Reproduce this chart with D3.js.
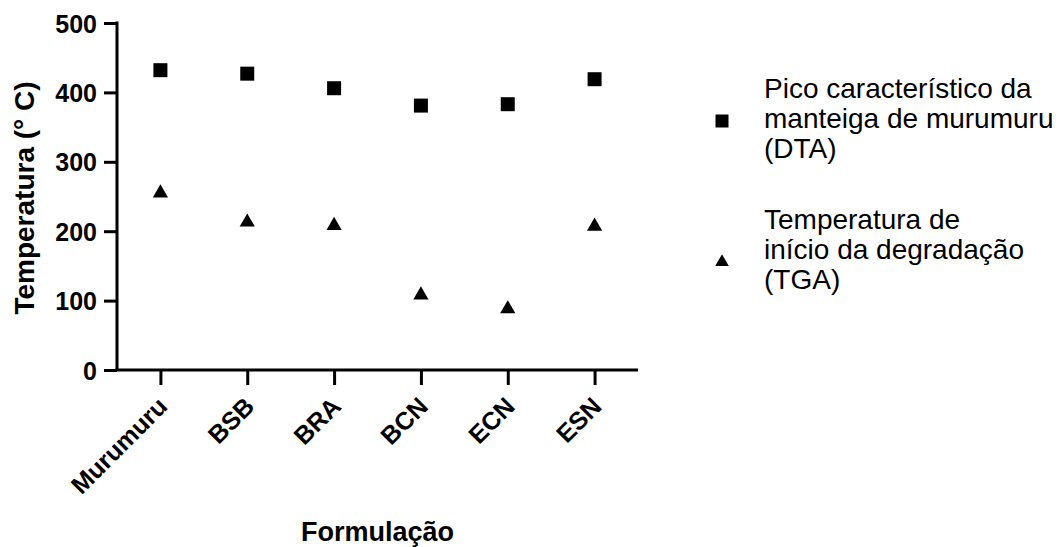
<!DOCTYPE html>
<html>
<head>
<meta charset="utf-8">
<script src="https://cdn.jsdelivr.net/npm/d3@7"></script>
<style>
  html, body { margin: 0; padding: 0; background: #fff; }
  svg { display: block; }
  text { font-family: "Liberation Sans", Arial, Helvetica, sans-serif; fill: #000; }
</style>
</head>
<body>
<svg id="chart" width="1061" height="547"></svg>
<script>
// Formulations along the x axis
const categories = ["Murumuru", "BSB", "BRA", "BCN", "ECN", "ESN"];
// Characteristic peak of murumuru butter (DTA), °C
const dtaPeak = [432, 427, 406, 381, 383, 419];
// Onset of degradation (TGA), °C
const tgaOnset = [255, 213, 208, 108, 88, 207];
const yTicks = [0, 100, 200, 300, 400, 500];

const legendDTA = ["Pico característico da", "manteiga de murumuru", "(DTA)"];
const legendTGA = ["Temperatura de", "início da degradação", "(TGA)"];

const svg = d3.select("#chart");
const plotL = 117, plotR = 638, plotT = 23, plotB = 370;

const x = d3.scalePoint().domain(categories).range([plotL, plotR]).padding(0.5);
const y = d3.scaleLinear().domain([0, 500]).range([plotB, plotT]);

// y axis
const yAxis = svg.append("g")
  .attr("transform", `translate(${plotL},0)`)
  .call(d3.axisLeft(y).tickValues(yTicks).tickSize(13).tickPadding(7).tickFormat(d3.format("d")));
yAxis.select(".domain").attr("stroke", "#000").attr("stroke-width", 3)
  .attr("d", `M0,${plotT - 1.5}V${plotB}`);
yAxis.selectAll(".tick line").attr("stroke", "#000").attr("stroke-width", 3);
yAxis.selectAll(".tick text")
  .attr("font-size", 25).attr("font-weight", "bold").attr("dy", "0.36em")
  .style("font-family", '"Liberation Sans", Arial, sans-serif');

// x axis
const xAxis = svg.append("g")
  .attr("transform", `translate(0,${plotB})`)
  .call(d3.axisBottom(x).tickSize(15).tickFormat(d => d));
xAxis.select(".domain").attr("stroke", "#000").attr("stroke-width", 3)
  .attr("d", `M${plotL - 1.5},0H${plotR}`);
xAxis.selectAll(".tick line").attr("stroke", "#000").attr("stroke-width", 3);
xAxis.selectAll(".tick text")
  .attr("font-size", 25).attr("font-weight", "bold")
  .attr("text-anchor", "end")
  .attr("y", 0).attr("dy", 0)
  .attr("transform", "translate(8,38) rotate(-45)")
  .style("font-family", '"Liberation Sans", Arial, sans-serif');

// axis titles
svg.append("text")
  .attr("transform", `translate(34,198) rotate(-90)`)
  .attr("text-anchor", "middle")
  .attr("font-size", 28).attr("font-weight", "bold")
  .text("Temperatura (° C)");

svg.append("text")
  .attr("x", (plotL + plotR) / 2).attr("y", 541)
  .attr("text-anchor", "middle")
  .attr("font-size", 27).attr("font-weight", "bold")
  .text("Formulação");

// markers
const square = d3.symbol().type(d3.symbolSquare).size(196);
const triangle = d3.symbol().type(d3.symbolTriangle).size(100);

svg.append("g").selectAll("path")
  .data(categories.map((c, i) => ({ c, v: dtaPeak[i] })))
  .join("path")
  .attr("d", square)
  .attr("transform", d => `translate(${x(d.c)},${y(d.v)})`)
  .attr("fill", "#000");

svg.append("g").selectAll("path")
  .data(categories.map((c, i) => ({ c, v: tgaOnset[i] })))
  .join("path")
  .attr("d", triangle)
  .attr("transform", d => `translate(${x(d.c)},${y(d.v)})`)
  .attr("fill", "#000");

// legend
const legend = svg.append("g");
const blocks = [
  { lines: legendDTA, sym: d3.symbol().type(d3.symbolSquare).size(169), base: 98, my: 121 },
  { lines: legendTGA, sym: d3.symbol().type(d3.symbolTriangle).size(80), base: 229, my: 262 }
];
blocks.forEach(b => {
  legend.append("path").attr("d", b.sym)
    .attr("transform", `translate(722,${b.my})`).attr("fill", "#000");
  const t = legend.append("text").attr("font-size", 28);
  b.lines.forEach((l, i) => {
    t.append("tspan").attr("x", 764).attr("y", b.base + i * 30).text(l);
  });
});
</script>
</body>
</html>
